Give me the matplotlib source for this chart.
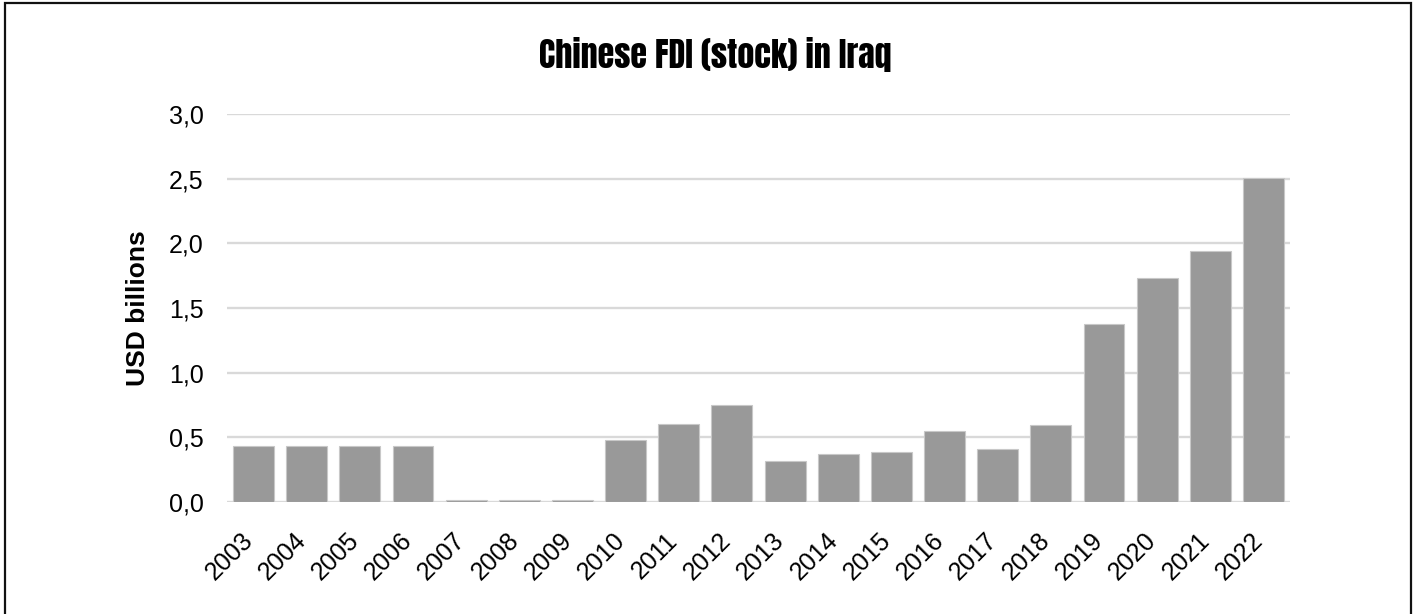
import matplotlib.pyplot as plt
from matplotlib.patches import Rectangle
from matplotlib.transforms import ScaledTranslation

years = [str(y) for y in range(2003, 2023)]
fdi_stock = [0.43, 0.43, 0.43, 0.43, 0.018, 0.018, 0.018, 0.477, 0.603, 0.753,
             0.315, 0.374, 0.387, 0.551, 0.412, 0.596, 1.377, 1.735, 1.941, 2.506]
y_ticks = [0.0, 0.5, 1.0, 1.5, 2.0, 2.5, 3.0]
y_tick_labels = ['0,0', '0,5', '1,0', '1,5', '2,0', '2,5', '3,0']


def main():
    plt.rcParams['font.family'] = ['Liberation Sans', 'DejaVu Sans']

    fig = plt.figure(figsize=(14.15, 6.14), dpi=100)
    ax = fig.add_axes([227 / 1415, 1 - 502 / 614, 1063 / 1415, 388 / 614])

    x = range(len(years))
    ax.bar(x, fdi_stock, width=0.77, color='#999999', edgecolor='#c8c8c8',
           linewidth=0.8, zorder=3)

    ax.set_xlim(-0.5, len(years) - 0.5)
    ax.set_ylim(0, 3.0)
    ax.set_yticks(y_ticks)
    ax.set_yticklabels(y_tick_labels)
    ax.set_xticks(list(x))
    ax.set_xticklabels(years, rotation=45, ha='right')
    ax.tick_params(axis='y', length=0, pad=17, labelsize=18)
    ax.tick_params(axis='x', length=0, pad=19, labelsize=18)

    # nudge the slanted year labels a little to the right
    shift = ScaledTranslation(4 / 100, 0, fig.dpi_scale_trans)
    for lbl in ax.get_xticklabels():
        lbl.set_transform(lbl.get_transform() + shift)

    ax.grid(axis='y', color='#d9d9d9', linewidth=1.7, zorder=0)
    for s in ax.spines.values():
        s.set_visible(False)

    ax.set_ylabel('USD billions', fontsize=19, fontweight='bold')
    ax.yaxis.set_label_coords(-0.072, 0.5)

    fig.text(715 / 1415, 1 - 55 / 614, 'Chinese FDI (stock) in Iraq',
             family=['Anton', 'Oswald', 'Roboto Condensed', 'DejaVu Sans'],
             fontsize=24.5, ha='center', va='center')

    # thin frame around the figure, open at the bottom
    fig.patches.append(Rectangle((4.5 / 1415, -0.05), 1406 / 1415, 1.05 - 2.5 / 614,
                                 transform=fig.transFigure, fill=False,
                                 edgecolor='#111111', linewidth=1.6))

    fig.savefig('out.png', dpi=100)


if __name__ == "__main__":
    main()
